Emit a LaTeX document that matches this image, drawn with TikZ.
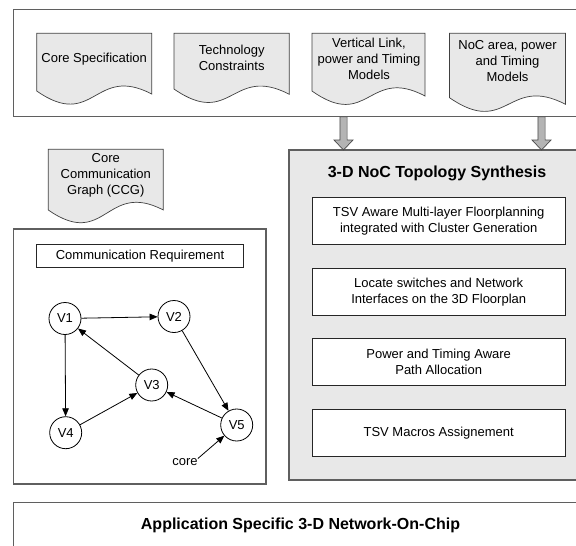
\documentclass[tikz,border=0pt]{standalone}
\usepackage{fontspec}
\setmainfont{Liberation Sans}
\usetikzlibrary{arrows.meta}
\definecolor{docgray}{RGB}{232,232,232}
\definecolor{framegray}{RGB}{95,95,95}
\definecolor{arrowgray}{RGB}{180,180,180}
\newcommand\docpath[5]{%
  \path[docshape] (#1,#3) -- (#2,#3) -- (#2,#5)
    .. controls ({(#1+#2)/2},{#5-30}) and ({(#1+#2)/2},{#4+40}) .. (#1,#4) -- cycle;}
\newcommand\blockarrow[3]{% cx, ytop, ytip
  \path[blockarr] (#1-3.6,#2) -- (#1+3.6,#2) -- (#1+3.6,#3-10) -- (#1+9.5,#3-10)
    -- (#1,#3) -- (#1-9.5,#3-10) -- (#1-3.6,#3-10) -- cycle;}
\begin{document}
\begin{tikzpicture}[x=1pt,y=-1pt,
  txt/.style={font=\fontsize{13}{16}\selectfont, align=center, inner sep=0pt},
  ttl/.style={font=\fontsize{16}{19}\selectfont\bfseries, inner sep=0pt},
  frame/.style={draw=framegray, line width=1.1pt},
  docshape/.style={draw=black!75, line width=0.7pt, fill=docgray},
  blockarr/.style={draw=black!70, line width=0.7pt, fill=arrowgray},
  wbox/.style={draw=black!85, line width=0.8pt, fill=white, inner sep=0pt,
    font=\fontsize{13}{16}\selectfont, align=center},
  vtx/.style={circle, draw=black, line width=0.8pt, fill=white, minimum size=32pt,
    inner sep=0pt, font=\fontsize{13}{16}\selectfont},
  gedge/.style={line width=0.8pt, -{Triangle[length=8pt,width=6.5pt]}},
]
\useasboundingbox (0,0) rectangle (576,546);
\fill[white] (0,0) rectangle (576,546);

% top input frame
\draw[frame] (13.3,9.3) rectangle (600,116.7);
\docpath{36.7}{151.7}{33.3}{91}{94}
\docpath{174}{289.3}{33.3}{89}{94.3}
\docpath{312}{425}{33.3}{91}{96}
\docpath{449.5}{565.5}{33.3}{97.7}{104.3}
\node[txt] (corespec) at (94.2,59.3) {Core Specification};
\node[txt] (techcons) at (231.7,58.3) {Technology\\Constraints};
\node[txt] (vlink) at (369,59.2) {Vertical Link,\\power and Timing\\Models};
\node[txt] (nocarea) at (507.5,61.2) {NoC area, power\\and Timing\\Models};

% synthesis frame
\draw[frame, fill=docgray] (289,150) rectangle (600,480);
\blockarrow{343.5}{116.7}{150}
\blockarrow{541.5}{116.7}{150}
\node[ttl] (synth) at (437,173.3) {3-D NoC Topology Synthesis};
\node[wbox, minimum width=252.7pt, minimum height=47pt] (s1) at (438.7,220.8)
  {TSV Aware Multi-layer Floorplanning\\integrated with Cluster Generation};
\node[wbox, minimum width=252.7pt, minimum height=47pt] (s2) at (438.7,291.7)
  {Locate switches and Network\\Interfaces on the 3D Floorplan};
\node[wbox, minimum width=252.7pt, minimum height=47pt] (s3) at (438.7,361.7)
  {Power and Timing Aware\\Path Allocation};
\node[wbox, minimum width=252.7pt, minimum height=47pt] (s4) at (438.7,432.7)
  {TSV Macros Assignement};

% CCG
\docpath{48.3}{163.3}{149.3}{210}{210}
\node[txt] (ccg) at (105.8,175.6) {Core\\Communication\\Graph (CCG)};
\draw[frame, fill=white] (13.3,229) rectangle (266,484);
\node[wbox, minimum width=206.6pt, minimum height=23.4pt] (commreq) at (140,256)
  {Communication Requirement};
\node[vtx] (V1) at (65,318.5) {V1};
\node[vtx] (V2) at (174,316.5) {V2};
\node[vtx] (V3) at (151.7,385) {V3};
\node[vtx] (V4) at (65.7,432.7) {V4};
\node[vtx] (V5) at (236.7,425) {V5};
\node[txt] (core) at (185,462.3) {core};
\draw[gedge] (V1) -- (V2);
\draw[gedge] (V2) -- (V5);
\draw[gedge] (V3) -- (V1);
\draw[gedge] (V1) -- (V4);
\draw[gedge] (V4) -- (V3);
\draw[gedge] (V5) -- (V3);
\draw[gedge] (core.north east) -- (V5);

% bottom frame
\draw[frame] (13.3,502.7) rectangle (600,560);
\node[ttl] (asnoc) at (300.5,525.5) {Application Specific 3-D Network-On-Chip};
\end{tikzpicture}
\end{document}
